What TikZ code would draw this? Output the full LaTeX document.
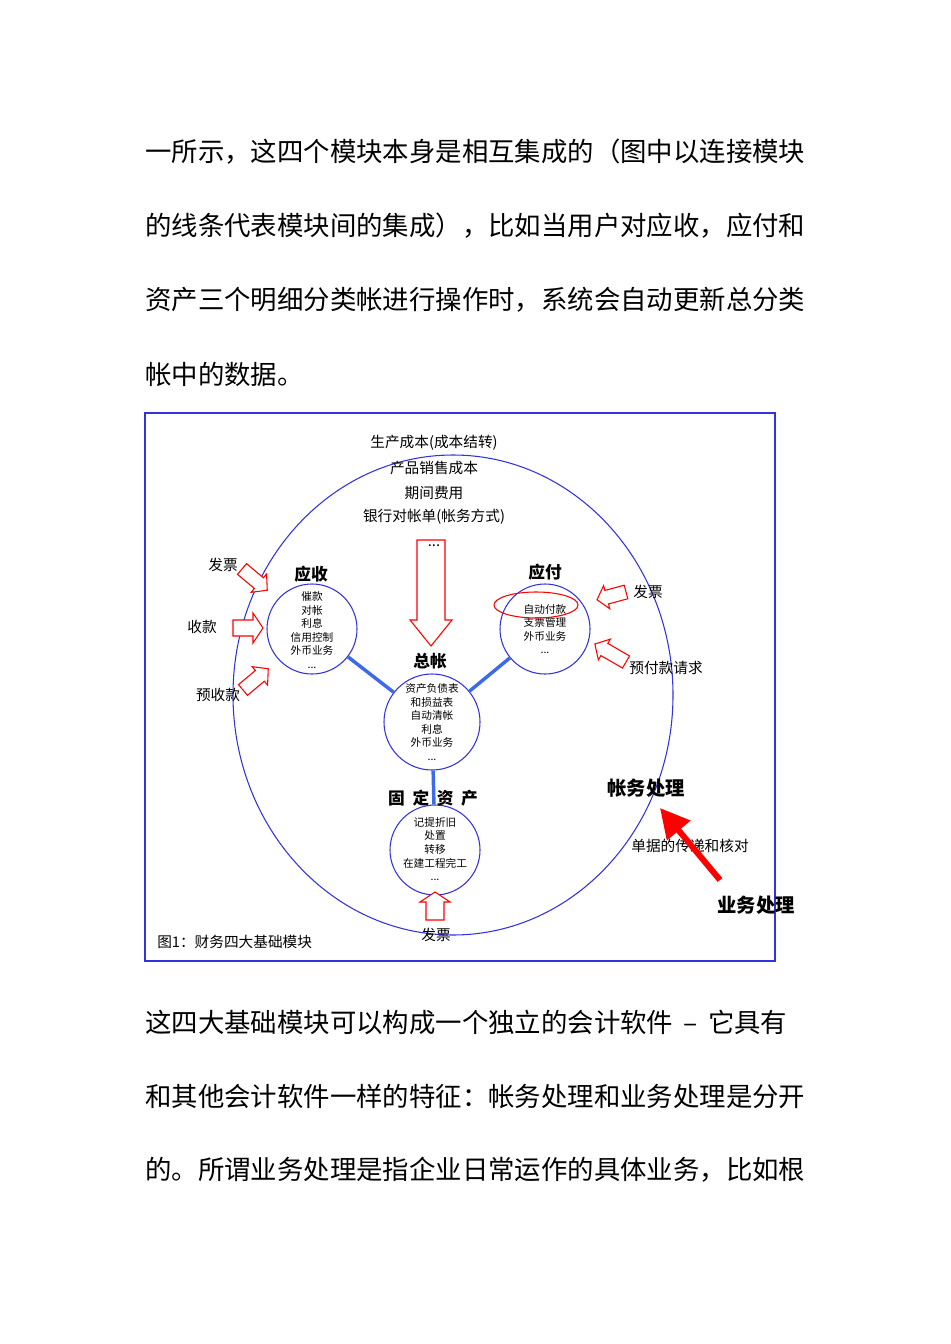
\documentclass[tikz,border=0pt]{standalone}
\usepackage{fontspec}
\setmainfont{Noto Sans CJK SC}
\usetikzlibrary{arrows.meta}
\definecolor{fb}{HTML}{3333DD}
\definecolor{lb}{HTML}{3B6BEB}
\tikzset{
 para/.style={anchor=west,inner sep=0,font=\fontsize{19.8}{20}\selectfont},
 lbl/.style={inner sep=0,font=\fontsize{11}{12}\selectfont},
 ctext/.style={inner sep=0,align=center,font=\fontsize{8}{10.2}\selectfont},
 hdr/.style={inner sep=0,font=\bfseries\fontsize{12.5}{13}\selectfont},
 big/.style={inner sep=0,font=\bfseries\fontsize{14.5}{15}\selectfont},
 mod/.style={draw=fb,circle,line width=0.8pt,inner sep=0},
 link/.style={draw=lb,line width=2.6pt},
 barrow/.style={draw=red,line width=0.8pt,fill=white}
}
% block arrow: #1 start, #2 angle, #3 length, #4 shaft half width, #5 head half width, #6 head length
\newcommand{\blockarrow}[6]{%
 \begin{scope}[shift={#1},rotate=#2]
 \draw[barrow] (0,-#4)--(#3-#6,-#4)--(#3-#6,-#5)--(#3,0)--(#3-#6,#5)--(#3-#6,#4)--(0,#4)--cycle;
 \end{scope}}
\begin{document}
\begin{tikzpicture}[x=0.75pt,y=-0.75pt]
\useasboundingbox (0,0) rectangle (950,1344);
\node[para] (p1) at (145,152) {一所示，这四个模块本身是相互集成的（图中以连接模块};
\node[para] (p2) at (145,226) {的线条代表模块间的集成），比如当用户对应收，应付和};
\node[para] (p3) at (145,300) {资产三个明细分类帐进行操作时，系统会自动更新总分类};
\node[para] (p4) at (145,374) {帐中的数据。};
\node[para] (p5) at (145,1022) {这四大基础模块可以构成一个独立的会计软件 \,–\, 它具有};
\node[para] (p6) at (145,1096) {和其他会计软件一样的特征：帐务处理和业务处理是分开};
\node[para] (p7) at (145,1170) {的。所谓业务处理是指企业日常运作的具体业务，比如根};
% frame
\draw[fb,line width=0.8pt] (145,413) rectangle (775,961);
% big ellipse
\draw[fb,line width=0.8pt] (453,695) ellipse [x radius=220,y radius=240];
% modules
\node[mod,minimum size=67.5pt] (ys) at (312,629) {};
\node[mod,minimum size=67.5pt] (yf) at (545,629) {};
\node[mod,minimum size=72pt] (zz) at (432,722) {};
\node[mod,minimum size=67.5pt] (gd) at (435,850) {};
\draw[link] (ys)--(zz);
\draw[link] (yf)--(zz);
\draw[link] (zz)--(gd);
\node[ctext] at (312,630) {催款\\对帐\\利息\\信用控制\\外币业务\\...};
\node[ctext] at (545,629) {自动付款\\支票管理\\外币业务\\...};
\node[ctext] at (432,722) {资产负债表\\和损益表\\自动清帐\\利息\\外币业务\\...};
\node[ctext] at (435,849) {记提折旧\\处置\\转移\\在建工程完工\\...};
\draw[red,line width=0.8pt] (536,605) ellipse [x radius=42,y radius=13];
\node[hdr] (hys) at (311,574) {应收};
\node[hdr] (hyf) at (545,572) {应付};
\node[hdr] (hzz) at (430,661) {总帐};
\node[hdr] (hgd) at (433,798) {固\ \ 定\ \ 资\ \ 产};
% top texts
\node[lbl] (t1) at (434,443) {生产成本(成本结转)};
\node[lbl] (t2) at (434,468) {产品销售成本};
\node[lbl] (t3) at (434,493) {期间费用};
\node[lbl] (t4) at (434,517) {银行对帐单(帐务方式)};
\blockarrow{(431,540)}{-90}{106}{14}{21}{26}
\node[lbl] (dots) at (434,546) {...};
% left arrows
\node[lbl] (l1) at (223,565) {发票};
\node[lbl] (l2) at (202,627) {收款};
\node[lbl] (l3) at (218,695) {预收款};
\blockarrow{(242,569)}{-40}{33}{7}{12}{11}
\blockarrow{(233,628)}{0}{30}{8}{15}{10}
\blockarrow{(243,690)}{40}{33}{7}{12}{11}
% right arrows
\node[lbl] (r1) at (648,592) {发票};
\node[lbl] (r2) at (666,668) {预付款请求};
\blockarrow{(626,592)}{-165}{30}{7}{12}{10}
\blockarrow{(626,662)}{150}{36}{7}{12}{11}
% bottom
\blockarrow{(435,920)}{90}{28}{9}{15}{10}
\node[lbl] (b1) at (436,935) {发票};
\node[lbl,anchor=west] (fig) at (157,942) {图1：财务四大基础模块};
% process labels
\node[big] (zw) at (646,788) {帐务处理};
\node[big] (yw) at (756,905) {业务处理};
\node[lbl] (dj) at (690,846) {单据的传递和核对};
\coordinate (ys0) at (720,880);
\coordinate (zw0) at (660,808);
\draw[red,line width=4.5pt,-{Triangle[length=22pt,width=22pt]}] (ys0)--(zw0);
\end{tikzpicture}
\end{document}
